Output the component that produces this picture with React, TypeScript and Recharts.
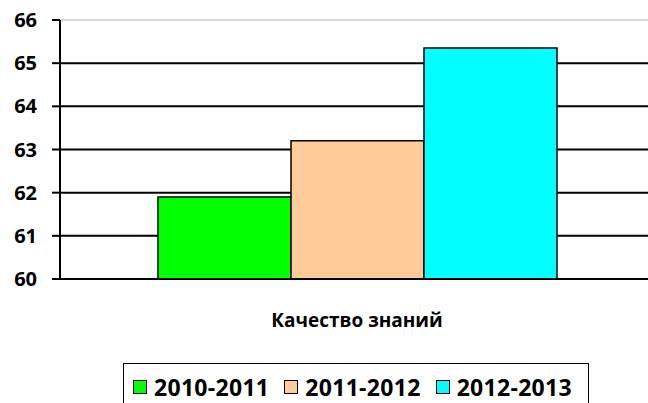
import { BarChart, Bar, XAxis, YAxis, CartesianGrid, Legend, ReferenceLine } from 'recharts';

const category = "Качество знаний";
const seasons = ["2010-2011", "2011-2012", "2012-2013"];
const values = [61.9, 63.2, 65.35];
const colors = ["#00ff00", "#ffcc99", "#00ffff"];
const yTicks = [60, 61, 62, 63, 64, 65, 66];

const row: Record<string, string | number> = { name: category };
seasons.forEach((s, i) => { row[s] = values[i]; });
const data = [row];

const font = "'Open Sans', sans-serif";

const LegendBox = () => (
  <div style={{
    border: "1px solid #000", height: 50, width: 466, boxSizing: "border-box",
    display: "flex", alignItems: "flex-start", paddingTop: 11, paddingLeft: 9,
    fontFamily: font, fontWeight: 700, fontSize: 23, color: "#000", whiteSpace: "nowrap",
  }}>
    {seasons.map((s, i) => (
      <div key={s} style={{ display: "flex", alignItems: "center", flexShrink: 0, marginRight: 15, lineHeight: "24px", height: 24 }}>
        <span style={{ width: 14, height: 14, flexShrink: 0, boxSizing: "border-box", background: colors[i], border: "1px solid #000", marginRight: 7 }} />
        <span style={{ letterSpacing: 0.3 }}>{s}</span>
      </div>
    ))}
  </div>
);

export default function App() {
  return (
    <div style={{ position: "fixed", left: 0, top: 0, width: 648, height: 403, overflow: "hidden", background: "#fff" }}>
      <BarChart width={660} height={403} data={data} margin={{ top: 20, right: 6, bottom: 0, left: 0 }}
        barCategoryGap={98} barGap={0}>
        <CartesianGrid vertical={false} horizontalValues={[61, 62, 63, 64, 65]} stroke="#000" strokeWidth={2} />
        <XAxis dataKey="name" axisLine={false} tickLine={false} tickSize={0} tickMargin={35} height={84}
          tick={{ fill: "#000", fontFamily: font, fontWeight: 700, fontSize: 19 }} />
        <YAxis domain={[60, 66]} ticks={yTicks} width={60} tickSize={8} tickMargin={15}
          axisLine={{ stroke: "#000", strokeWidth: 2 }} tickLine={{ stroke: "#000", strokeWidth: 2 }}
          tick={{ fill: "#000", fontFamily: font, fontWeight: 700, fontSize: 20 }} />
        <ReferenceLine y={66} stroke="#b0b0b0" strokeWidth={1} />
        <ReferenceLine y={60} stroke="#000" strokeWidth={2} />
        {seasons.map((s, i) => (
          <Bar key={s} dataKey={s} fill={colors[i]} stroke="#000" strokeWidth={1.5} isAnimationActive={false} />
        ))}
        <Legend verticalAlign="bottom" content={<LegendBox />}
          wrapperStyle={{ left: 123, width: 466, height: 40, bottom: 0 }} />
      </BarChart>
    </div>
  );
}
